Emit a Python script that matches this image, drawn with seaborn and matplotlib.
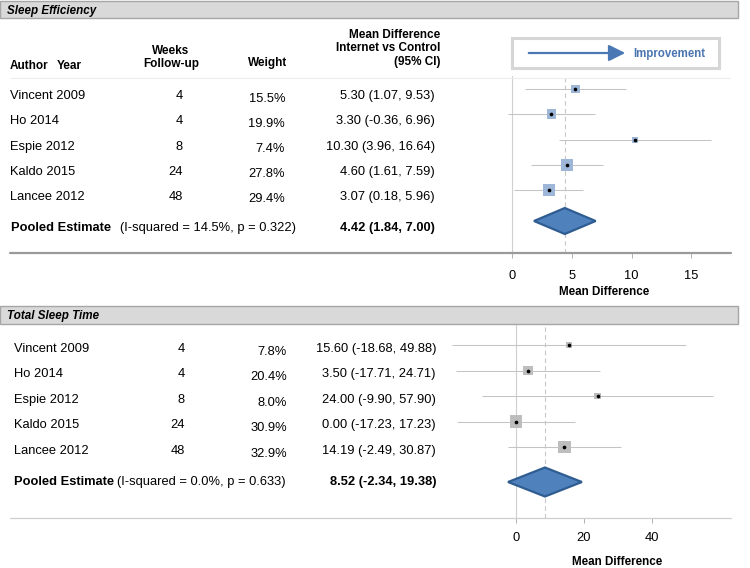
import numpy as np
import pandas as pd
import matplotlib
matplotlib.use("Agg")
import matplotlib.pyplot as plt
import seaborn as sns
from matplotlib.patches import Rectangle, FancyArrowPatch
from matplotlib.lines import Line2D

# ---------------- data ----------------
authors = ["Vincent 2009", "Ho 2014", "Espie 2012", "Kaldo 2015", "Lancee 2012"]
weeks = [4, 4, 8, 24, 48]

se_weight = [15.5, 19.9, 7.4, 27.8, 29.4]
se_md = [5.30, 3.30, 10.30, 4.60, 3.07]
se_lo = [1.07, -0.36, 3.96, 1.61, 0.18]
se_hi = [9.53, 6.96, 16.64, 7.59, 5.96]
se_pooled = [4.42, 1.84, 7.00]
se_i2, se_p = 14.5, 0.322
se_ticks = [0, 5, 10, 15]

tst_weight = [7.8, 20.4, 8.0, 30.9, 32.9]
tst_md = [15.60, 3.50, 24.00, 0.00, 14.19]
tst_lo = [-18.68, -17.71, -9.90, -17.23, -2.49]
tst_hi = [49.88, 24.71, 57.90, 17.23, 30.87]
tst_pooled = [8.52, -2.34, 19.38]
tst_i2, tst_p = 0.0, 0.633
tst_ticks = [0, 20, 40]

# ---------------- style ----------------
sns.set_theme(style="white")
plt.rcParams["font.family"] = ["Liberation Sans", "DejaVu Sans"]

W, H = 750, 568
fig = plt.figure(figsize=(7.5, 5.68), dpi=100)

def fx(x):
    return x / W

def fy(y):
    return 1 - y / H

BODY = 9.25
HEAD = 8.5
BOFF = 4.6   # cap-centre -> baseline offset (px) for body text
HOFF = 4.2

def txt(x, y, s, size=BODY, off=BOFF, color="black", **kw):
    fig.text(fx(x), fy(y + off), s, fontsize=size, va="baseline", color=color, **kw)

def hline(x0, x1, y, color, lw):
    fig.add_artist(Line2D([fx(x0), fx(x1)], [fy(y), fy(y)], color=color, lw=lw,
                          transform=fig.transFigure))

def header_bar(y0, y1, title):
    fig.add_artist(Rectangle((fx(0), fy(y1)), fx(738), (y1 - y0) / H,
                             facecolor="#d9d9d9", edgecolor="#a6a6a6", lw=1,
                             transform=fig.transFigure))
    fig.text(fx(7), fy((y0 + y1) / 2 + 4.2), title, fontsize=8.4, fontweight="bold",
             fontstyle="italic", va="baseline", color="black")


def forest(ax, md, lo, hi, weight, pooled, sq_color, px0, pxstep, pool_px, dh,
           ylim_px, ticks, xlim, tickpad):
    n = len(md)
    rows = np.arange(n, dtype=float)
    prow = (pool_px - px0) / pxstep
    df = pd.DataFrame({"md": md, "lo": lo, "hi": hi, "w": weight, "row": rows})
    ax.hlines(df["row"], df["lo"], df["hi"], color="#c4c4c4", lw=0.75, zorder=2)
    ax.axvline(0, color="#cfcfcf", lw=0.8, zorder=1)
    ax.axvline(pooled[0], color="#c8c8c8", lw=0.8, ls=(0, (4, 3)), zorder=1)
    sns.scatterplot(data=df, x="md", y="row", size="w", sizes=(0, 250),
                    size_norm=(0, 100), marker="s", color=sq_color, linewidth=0,
                    legend=False, ax=ax, zorder=3)
    sns.scatterplot(data=df, x="md", y="row", s=7, color="black", linewidth=0,
                    legend=False, ax=ax, zorder=4)
    est, plo, phi = pooled
    ax.fill([plo, est, phi, est], [prow, prow - dh, prow, prow + dh],
            facecolor="#4f81bd", edgecolor="#2f5d92", lw=1.6, zorder=5)
    ax.set_xlim(*xlim)
    ax.set_ylim((ylim_px[1] - px0) / pxstep, (ylim_px[0] - px0) / pxstep)
    ax.set_xticks(ticks)
    ax.set_xticklabels([str(t) for t in ticks])
    ax.set_yticks([])
    ax.set_xlabel("")
    ax.set_ylabel("")
    for s in ax.spines.values():
        s.set_visible(False)
    ax.tick_params(axis="x", bottom=True, length=3.6, width=0.7, color="#b0b0b0",
                   labelsize=BODY, labelcolor="black", pad=tickpad, direction="out")
    ax.patch.set_alpha(0)


# ================= Top panel: Sleep Efficiency =================
header_bar(1, 18, "Sleep Efficiency")

txt(10, 65, "Author", size=HEAD, off=HOFF, fontweight="bold")
txt(57, 65, "Year", size=HEAD, off=HOFF, fontweight="bold")
txt(171, 50, "Weeks", size=HEAD, off=HOFF, fontweight="bold", ha="center")
txt(171, 63, "Follow-up", size=HEAD, off=HOFF, fontweight="bold", ha="center")
txt(287, 62, "Weight", size=HEAD, off=HOFF, fontweight="bold", ha="right")
txt(440, 34, "Mean Difference", size=HEAD, off=HOFF, fontweight="bold", ha="right")
txt(440, 47, "Internet vs Control", size=HEAD, off=HOFF, fontweight="bold", ha="right")
txt(440, 61, "(95% CI)", size=HEAD, off=HOFF, fontweight="bold", ha="right")
hline(10, 730, 78, "#ededed", 0.8)

# improvement box
fig.add_artist(Rectangle((fx(512), fy(68)), (719 - 512) / W, 30 / H,
                         facecolor="white", edgecolor="#d6d6d6", lw=2.2,
                         transform=fig.transFigure))
fig.add_artist(FancyArrowPatch((fx(526), fy(53)), (fx(628), fy(53)),
                               arrowstyle="-|>,head_length=0.9,head_width=0.45",
                               mutation_scale=11, color="#4a78b5", lw=1.6,
                               transform=fig.transFigure))
txt(633, 53, "Improvement", size=8.3, off=4.1, fontweight="bold", color="#4a75b0")

for i in range(len(authors)):
    y = 94.5 + 25.2 * i
    txt(10, y, authors[i])
    txt(183, y, str(weeks[i]), ha="right")
    txt(285, y + 2.5, f"{se_weight[i]:.1f}%", ha="right")
    txt(435, y, f"{se_md[i]:.2f} ({se_lo[i]:.2f}, {se_hi[i]:.2f})", ha="right")

txt(11, 226, "Pooled Estimate", fontweight="bold")
txt(120, 226, f"(I-squared = {se_i2:.1f}%, p = {se_p:.3f})")
txt(435, 226, f"{se_pooled[0]:.2f} ({se_pooled[1]:.2f}, {se_pooled[2]:.2f})",
    ha="right", fontweight="bold")

ax1 = fig.add_axes([fx(445), fy(253), 286 / W, 177 / H])
forest(ax1, se_md, se_lo, se_hi, se_weight, se_pooled, "#9eb6d8",
       px0=89, pxstep=25.3, pool_px=221, dh=13 / 25.3, ylim_px=(76, 253),
       ticks=se_ticks, xlim=((445 - 512) / 11.95, (731 - 512) / 11.95), tickpad=8.6)
hline(10, 731, 253, "#9a9a9a", 1.6)
fig.text(fx(604), fy(291 + 4.2), "Mean Difference", fontsize=8.4, fontweight="bold",
         ha="center", va="baseline", color="black")

# ================= Bottom panel: Total Sleep Time =================
header_bar(306, 324, "Total Sleep Time")

for i in range(len(authors)):
    y = 347 + 25.5 * i
    txt(14, y, authors[i])
    txt(185, y, str(weeks[i]), ha="right")
    txt(287, y + 3, f"{tst_weight[i]:.1f}%", ha="right")
    txt(436, y, f"{tst_md[i]:.2f} ({tst_lo[i]:.2f}, {tst_hi[i]:.2f})", ha="right")

txt(14, 480, "Pooled Estimate", fontweight="bold")
txt(117, 480, f"(I-squared = {tst_i2:.1f}%, p = {tst_p:.3f})")
txt(436, 480, f"{tst_pooled[0]:.2f} ({tst_pooled[1]:.2f}, {tst_pooled[2]:.2f})",
    ha="right", fontweight="bold")

ax2 = fig.add_axes([fx(445), fy(518), 286 / W, 194 / H])
forest(ax2, tst_md, tst_lo, tst_hi, tst_weight, tst_pooled, "#bdbdbd",
       px0=345, pxstep=25.5, pool_px=482, dh=14.5 / 25.5, ylim_px=(324, 518),
       ticks=tst_ticks, xlim=((445 - 516) / 3.4, (731 - 516) / 3.4), tickpad=6.8)
hline(10, 731, 518, "#cfcfcf", 0.9)
fig.text(fx(617), fy(561 + 4.2), "Mean Difference", fontsize=8.4, fontweight="bold",
         ha="center", va="baseline", color="black")

fig.savefig("out.png", dpi=100, facecolor="white")
